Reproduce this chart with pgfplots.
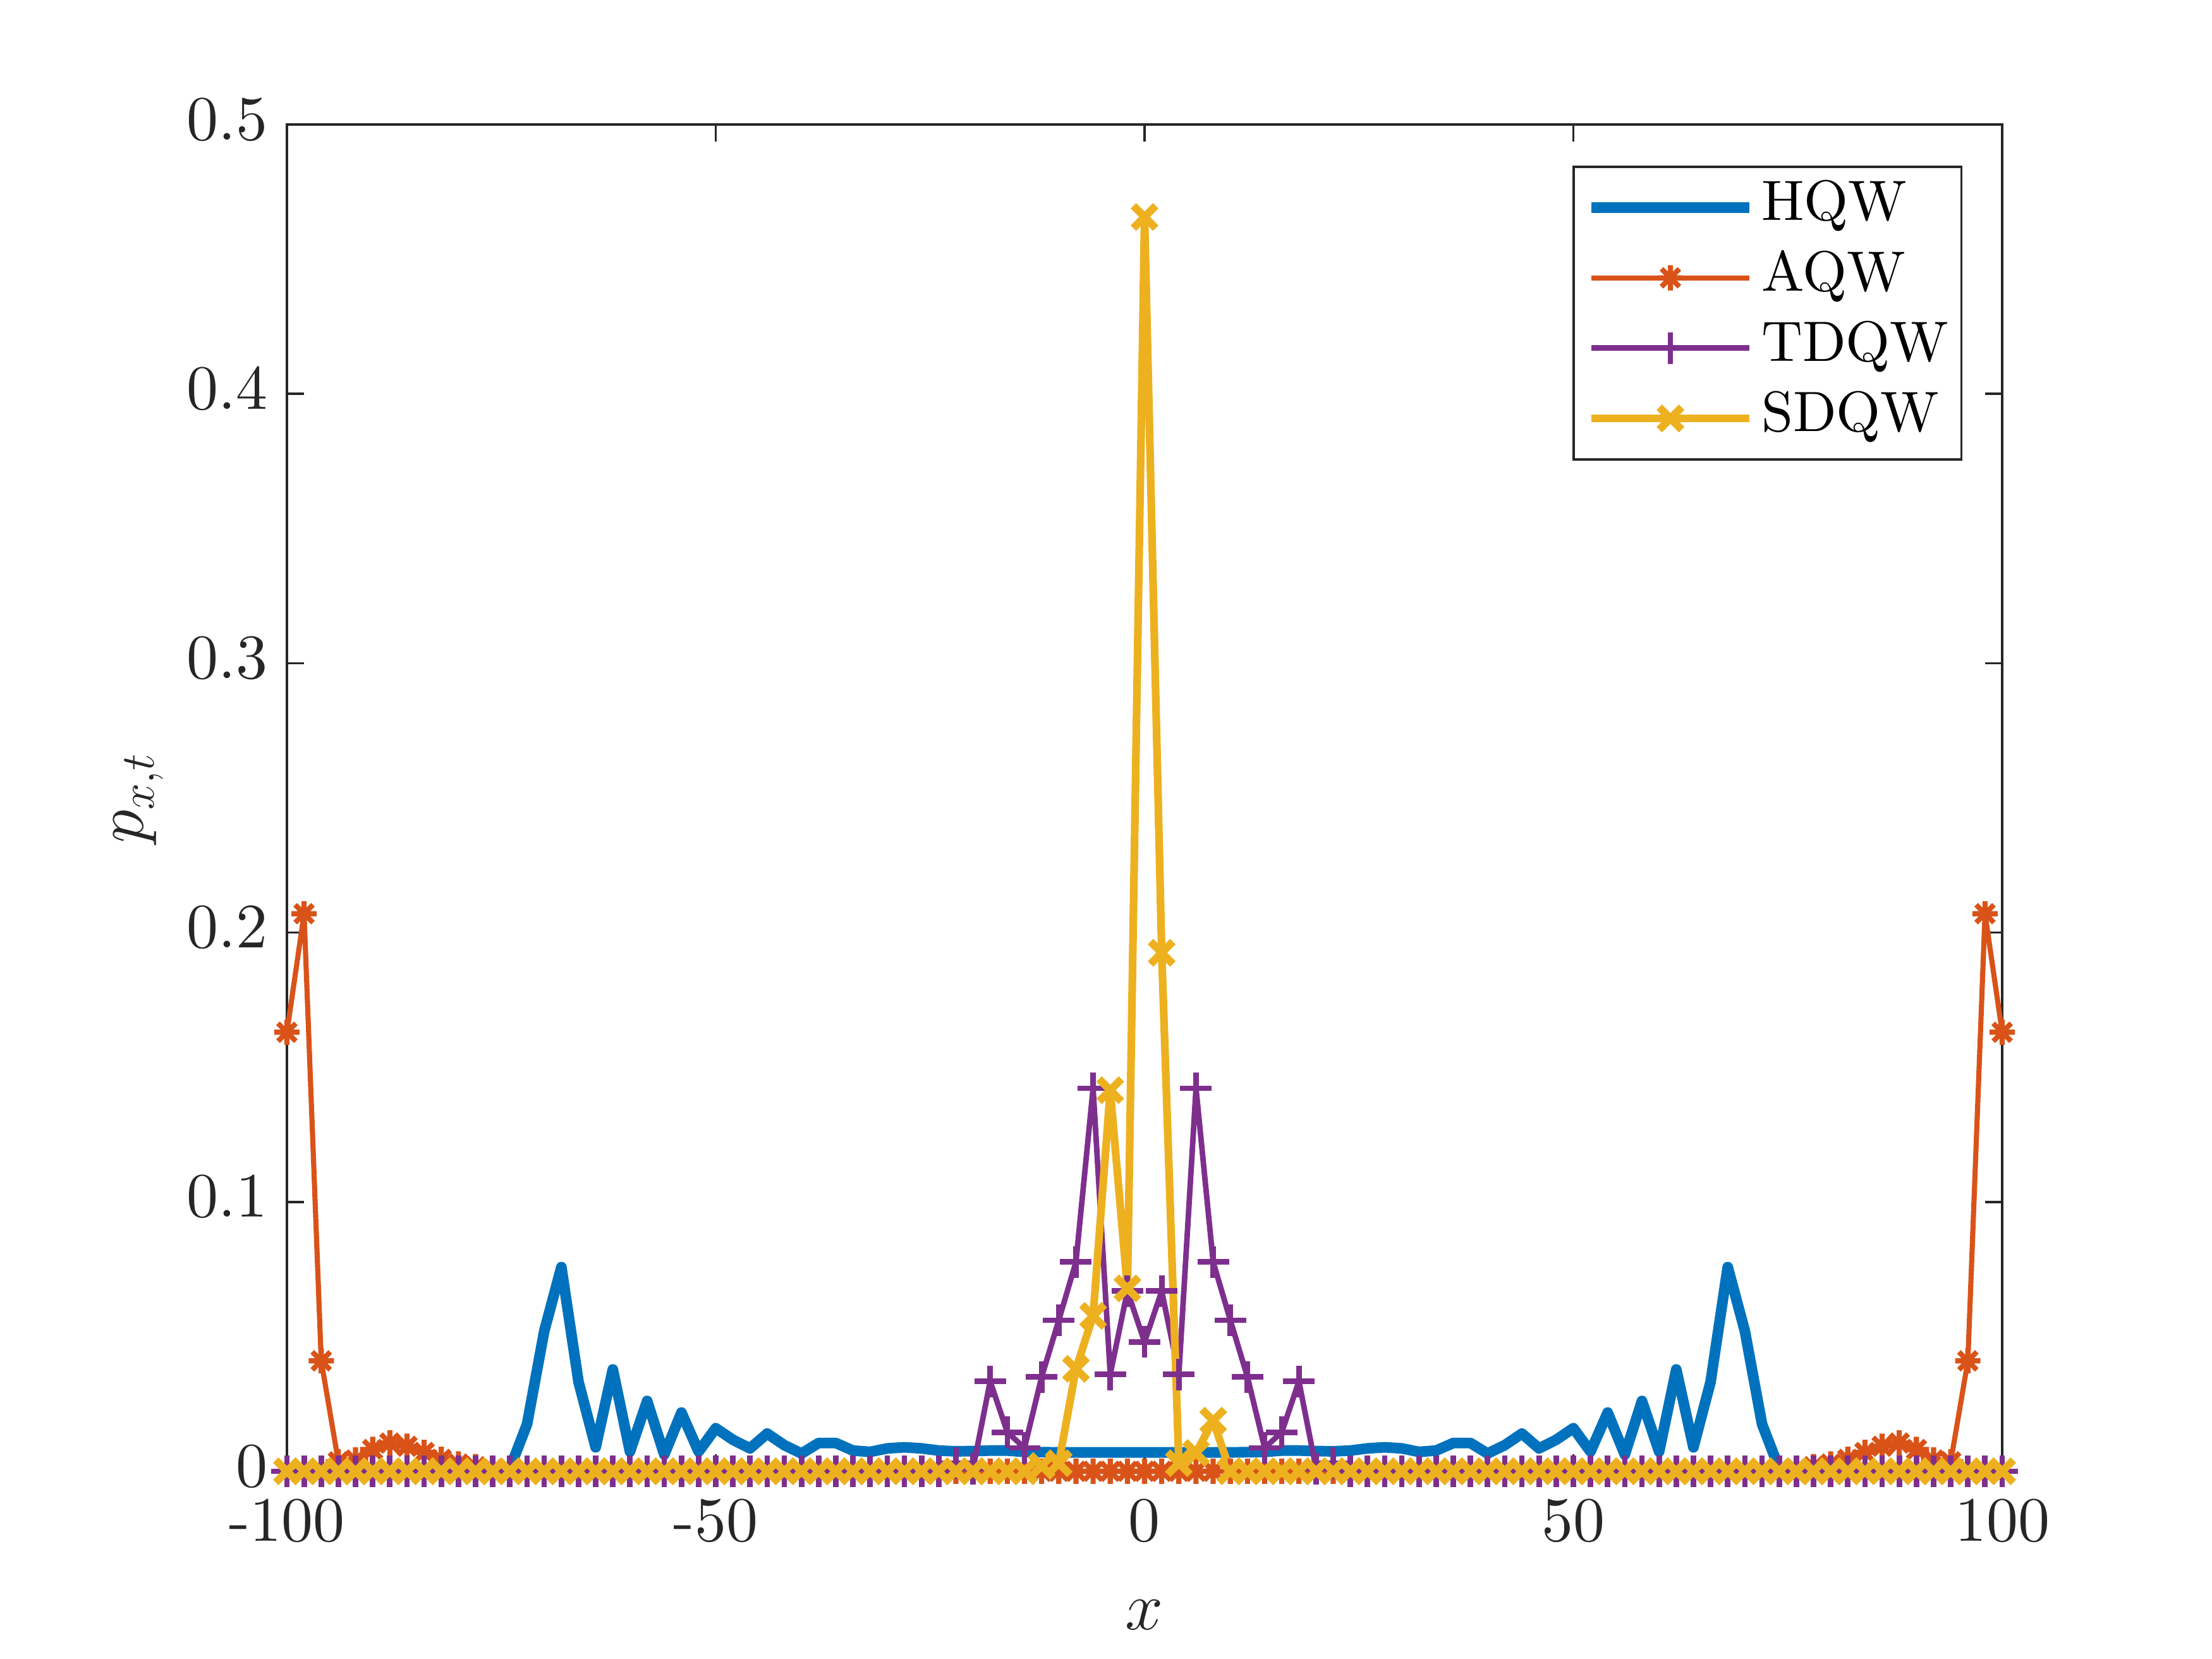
\documentclass[border=0pt]{standalone}
\usepackage{fontspec}
\setmainfont{lmroman10-regular.otf}[ItalicFont=lmroman10-italic.otf, BoldFont=lmroman10-bold.otf]
\usepackage{pgfplots}
\usepackage{pgfplotstable}
\pgfplotsset{compat=1.18}

\definecolor{cH}{RGB}{0,114,189}
\definecolor{cA}{RGB}{217,83,25}
\definecolor{cT}{RGB}{126,47,142}
\definecolor{cS}{RGB}{237,177,32}
\definecolor{axgray}{RGB}{38,38,38}

\pgfdeclareplotmark{mstar}{%
  \pgfpathmoveto{\pgfqpoint{-\pgfplotmarksize}{0pt}}\pgfpathlineto{\pgfqpoint{\pgfplotmarksize}{0pt}}%
  \pgfpathmoveto{\pgfqpoint{0pt}{-\pgfplotmarksize}}\pgfpathlineto{\pgfqpoint{0pt}{\pgfplotmarksize}}%
  \pgfpathmoveto{\pgfqpoint{-0.7071\pgfplotmarksize}{-0.7071\pgfplotmarksize}}\pgfpathlineto{\pgfqpoint{0.7071\pgfplotmarksize}{0.7071\pgfplotmarksize}}%
  \pgfpathmoveto{\pgfqpoint{-0.7071\pgfplotmarksize}{0.7071\pgfplotmarksize}}\pgfpathlineto{\pgfqpoint{0.7071\pgfplotmarksize}{-0.7071\pgfplotmarksize}}%
  \pgfusepathqstroke}

\pgfplotstableread{
x h a t s
-100 0 0.163 0 0
-98 0 0.207 0 0
-96 0 0.041 0 0
-94 0 0.0035 0 0
-92 0 0.0042 0 0
-90 0 0.0081 0 0
-88 0 0.0105 0 0
-86 0 0.0093 0 0
-84 0 0.0070 0 0
-82 0 0.0044 0 0
-80 0 0.0027 0 0
-78 0 0.0017 0 0
-76 0 0.0008 0 0
-74 0.0010 0.0003 0 0
-72 0.0175 0 0 0
-70 0.0520 0 0 0
-68 0.0758 0 0 0
-66 0.0332 0 0 0
-64 0.0089 0 0 0
-62 0.0378 0 0 0
-60 0.0073 0 0 0
-58 0.0261 0 0 0
-56 0.0062 0 0 0
-54 0.0218 0 0 0
-52 0.0073 0 0 0
-50 0.0160 0 0 0
-48 0.0117 0 0 0
-46 0.0085 0 0 0
-44 0.0140 0 0 0
-42 0.0097 0 0 0
-40 0.0066 0 0 0
-38 0.0105 0 0 0
-36 0.0105 0 0 0
-34 0.0077 0 0 0
-32 0.0072 0 0 0
-30 0.0085 0 0 0
-28 0.0089 0 0 0
-26 0.0085 0 0 0
-24 0.0077 0 0 0
-22 0.0074 0 0.003 0
-20 0.0075 0 0.001 0
-18 0.0077 0 0.0334 0
-16 0.0077 0 0.0145 0
-14 0.0072 0 0.0087 0
-12 0.0071 0 0.0350 0.002
-10 0.0070 0 0.0561 0.003
-8 0.0070 0 0.0777 0.038
-6 0.0070 0 0.1422 0.0577
-4 0.0070 0 0.0360 0.1415
-2 0.0070 0 0.0669 0.0679
0 0.0070 0 0.0480 0.4657
2 0.0070 0 0.0669 0.1925
4 0.0070 0 0.0360 0.003
6 0.0070 0 0.1422 0.0068
8 0.0070 0 0.0777 0.0188
10 0.0070 0 0.0561 0
12 0.0071 0 0.0350 0
14 0.0072 0 0.0087 0
16 0.0077 0 0.0145 0
18 0.0077 0 0.0334 0
20 0.0075 0 0.001 0
22 0.0074 0 0.003 0
24 0.0077 0 0 0
26 0.0085 0 0 0
28 0.0089 0 0 0
30 0.0085 0 0 0
32 0.0072 0 0 0
34 0.0077 0 0 0
36 0.0105 0 0 0
38 0.0105 0 0 0
40 0.0066 0 0 0
42 0.0097 0 0 0
44 0.0140 0 0 0
46 0.0085 0 0 0
48 0.0117 0 0 0
50 0.0160 0 0 0
52 0.0073 0 0 0
54 0.0218 0 0 0
56 0.0062 0 0 0
58 0.0261 0 0 0
60 0.0073 0 0 0
62 0.0378 0 0 0
64 0.0089 0 0 0
66 0.0332 0 0 0
68 0.0758 0 0 0
70 0.0520 0 0 0
72 0.0175 0 0 0
74 0.0010 0.0003 0 0
76 0 0.0008 0 0
78 0 0.0017 0 0
80 0 0.0027 0 0
82 0 0.0044 0 0
84 0 0.0070 0 0
86 0 0.0093 0 0
88 0 0.0105 0 0
90 0 0.0081 0 0
92 0 0.0042 0 0
94 0 0.0035 0 0
96 0 0.041 0 0
98 0 0.207 0 0
100 0 0.163 0 0
}\data

\begin{document}
\begin{tikzpicture}
\begin{axis}[
  scale only axis, width=434.24pt, height=340.96pt,
  xmin=-100, xmax=100, ymin=0, ymax=0.5,
  xtick={-100,-50,0,50,100}, xticklabels={-100,-50,0,50,100},
  ytick={0,0.1,0.2,0.3,0.4,0.5}, yticklabels={0,0.1,0.2,0.3,0.4,0.5},
  tick align=inside, major tick length=4.34pt,
  axis line style={line width=0.6pt, draw=axgray},
  every tick/.style={line width=0.6pt, draw=axgray},
  tick label style={font=\fontsize{16}{19}\selectfont, text=axgray},
  xticklabel style={yshift=-3.5pt},
  yticklabel style={xshift=-1.3pt, yshift=1.3pt},
  xlabel={$x$}, ylabel={$p_{x,t}$},
  label style={font=\fontsize{17.6}{21}\selectfont, text=axgray},
  xlabel style={at={(axis description cs:0.5,-0.1065)}, anchor=center},
  ylabel style={at={(axis description cs:-0.0866,0.5)}, anchor=center},
  clip=false,
  legend cell align=left,
  legend style={at={(0.9769,0.9696)}, anchor=north east, draw=axgray, line width=0.6pt, fill=white,
    inner xsep=3.2pt, inner ysep=2.85pt, row sep=2.8pt, column sep=0pt,
    font=\fontsize{14.4}{17}\selectfont,
    nodes={inner sep=0pt, text height=10.8pt, text depth=4.2pt}},
  legend image code/.code={\draw[mark repeat=2,mark phase=2,#1] plot coordinates {(0pt,0pt) (20pt,0pt) (40pt,0pt)}; \path (41.7pt,0pt);},
]
\addplot[cH, line width=2.7pt, line join=round] table[x=x,y=h]{\data};
\addlegendentry{HQW}
\addplot[cA, line width=1.3pt, line join=round, mark=mstar, mark size=3.2pt, mark options={solid}] table[x=x,y=a]{\data};
\addlegendentry{AQW}
\addplot[cT, line width=1.4pt, line join=round, mark=+, mark size=4pt, mark options={solid}] table[x=x,y=t]{\data};
\addlegendentry{TDQW}
\addplot[cS, line width=1.95pt, line join=round, mark=x, mark size=4pt, mark options={solid}] table[x=x,y=s]{\data};
\addlegendentry{SDQW}
\end{axis}
\pgfresetboundingbox
\path[use as bounding box] (-72.64pt,-47.52pt) rectangle (487.36pt,372.48pt);
\end{tikzpicture}
\end{document}
